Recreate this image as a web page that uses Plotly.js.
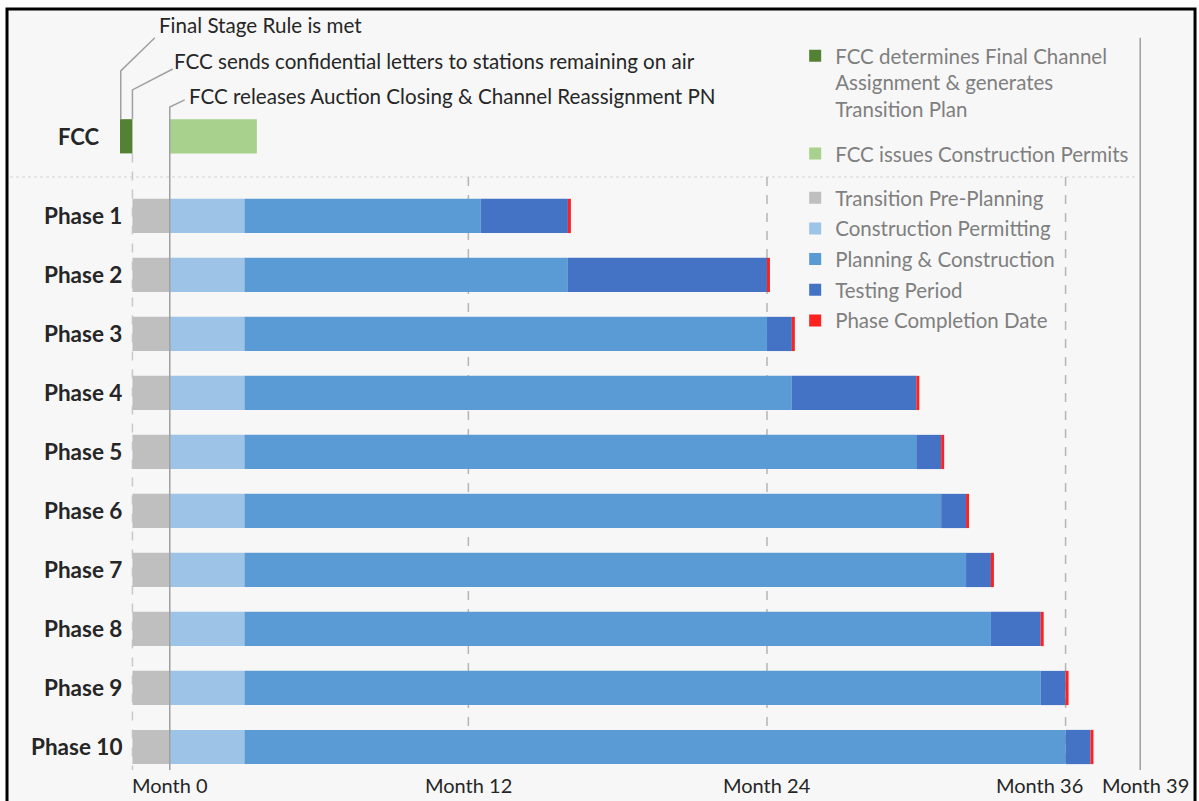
<!DOCTYPE html>
<html><head><meta charset="utf-8">
<script src="https://cdn.plot.ly/plotly-3.0.1.min.js"></script>
<style>html,body{margin:0;padding:0;background:#fff}#chart{width:1199px;height:801px}</style>
</head><body><div id="chart"></div>
<script>
// ---------- DATA ----------
const phases = ['Phase 1','Phase 2','Phase 3','Phase 4','Phase 5','Phase 6','Phase 7','Phase 8','Phase 9','Phase 10'];
const prePlanningStart = [-1.5,-1.5,-1.5,-1.5,-1.5,-1.5,-1.5,-1.5,-1.5,-1.5];
const prePlanningEnd   = [0,0,0,0,0,0,0,0,0,0];
const permittingEnd    = [3,3,3,3,3,3,3,3,3,3];
const planningEnd      = [12.5,16,24,25,30,31,32,33,35,36];
const testingEnd       = [16,24,25,30,31,32,33,35,36,37];

const fccLabel = 'FCC';
const fccAssignment = [-2, -1.5];   // start, end (months)
const fccPermits    = [0, 3.5];     // start, end (months)

const seriesNames = ['Transition Pre-Planning','Construction Permitting','Planning & Construction','Testing Period','Phase Completion Date'];
const fccSeriesNames = ['FCC determines Final Channel<br>Assignment & generates<br>Transition Plan','FCC issues Construction Permits'];

const milestones = ['Final Stage Rule is met','FCC sends confidential letters to stations remaining on air','FCC releases Auction Closing & Channel Reassignment PN'];

const monthTicks  = [0,12,24,36,39];
const monthLabels = ['Month 0','Month 12','Month 24','Month 36','Month 39'];

// ---------- STYLE ----------
const FONT = 'Lato, "Open Sans", sans-serif';
const TXT = '#262626';
const colors = ['#bfbfbf','#9dc3e6','#5b9bd5','#4472c4','#ff2020'];
const fccColors = ['#548235','#a9d18e'];
const BW = 0.58;
const FCC_Y = -0.35;
const MARK = 0.12;
const Y_TOP = -2.49, Y_BOT = 10.39;

const yPos = phases.map((p,i)=>i+1);
const diff = (a,b)=>a.map((v,i)=>v-b[i]);

function hbar(name, base, len, color, legend, group){
  return {type:'bar', orientation:'h', name:name, y:yPos, x:len, base:base, width:BW,
    marker:{color:color, line:{width:0}}, legend:legend, legendgroup:group, hoverinfo:'skip'};
}
const traces = [
  {type:'bar', orientation:'h', name:fccSeriesNames[0], y:[FCC_Y], x:[fccAssignment[1]-fccAssignment[0]], base:[fccAssignment[0]], width:BW,
   marker:{color:fccColors[0]}, legend:'legend', legendgroup:'f1', hoverinfo:'skip'},
  {type:'bar', orientation:'h', name:fccSeriesNames[1], y:[FCC_Y], x:[fccPermits[1]-fccPermits[0]], base:[fccPermits[0]], width:BW,
   marker:{color:fccColors[1]}, legend:'legend', legendgroup:'f2', hoverinfo:'skip'},
  hbar(seriesNames[0], prePlanningStart, diff(prePlanningEnd,prePlanningStart), colors[0], 'legend2','p1'),
  hbar(seriesNames[1], prePlanningEnd, diff(permittingEnd,prePlanningEnd), colors[1], 'legend2','p2'),
  hbar(seriesNames[2], permittingEnd, diff(planningEnd,permittingEnd), colors[2], 'legend2','p3'),
  hbar(seriesNames[3], planningEnd, diff(testingEnd,planningEnd), colors[3], 'legend2','p4'),
  hbar(seriesNames[4], testingEnd, testingEnd.map(()=>MARK), colors[4], 'legend2','p5')
];

const grey = '#a0a0a0';
const shapes = [
  {type:'rect', xref:'paper', yref:'paper', x0:-0.1056, x1:1.0047, y0:-0.06, y1:1.0013, layer:'below',
   fillcolor:'#f7f7f7', line:{color:'#000', width:3}},
  {type:'line', xref:'paper', yref:'paper', x0:-0.1028, x1:0.9505, y0:0.7803, y1:0.7803, layer:'below',
   line:{color:'#d4d4d4', width:1, dash:'dot'}},
];
[12,24,36].forEach(m=>shapes.push({type:'line', x0:m, x1:m, y0:0.339, y1:Y_BOT, layer:'below', line:{color:'#b5b5b5', width:1.5, dash:'dash'}}));
shapes.push({type:'line', x0:39, x1:39, y0:-2.02, y1:Y_BOT, layer:'below', line:{color:grey, width:1.5}});
shapes.push({type:'line', x0:-1.5, x1:-1.5, y0:FCC_Y+BW/2, y1:Y_BOT, layer:'below', line:{color:'#c8c8c8', width:1.5, dash:'dash'}});
const leaders = [
  {x:-1.97, yb:FCC_Y-BW/2, ye:-1.458, dx:-0.6, dy:-2.02},
  {x:-1.5,  yb:FCC_Y-BW/2, ye:-1.136, dx:0.12, dy:-1.49},
  {x:0,     yb:Y_BOT,      ye:-0.847, dx:0.6,  dy:-0.966}
];
leaders.forEach(l=>{
  shapes.push({type:'path', path:`M${l.x},${l.yb} L${l.x},${l.ye} L${l.dx},${l.dy}`, layer:'above', line:{color:grey, width:1.5}});
});
const textPos = [{x:-0.4,y:-2.237},{x:0.2,y:-1.627},{x:0.8,y:-1.034}];

const annotations = [];
milestones.forEach((t,i)=>annotations.push({text:t, x:textPos[i].x, y:textPos[i].y, xref:'x', yref:'y', xanchor:'left', yanchor:'middle', xshift:-3,
  showarrow:false, font:{family:FONT, size:20.6, color:TXT}}));
phases.forEach((p,i)=>annotations.push({text:'<b>'+p+'</b>', x:-2, y:yPos[i], xref:'x', yref:'y', xanchor:'right', yanchor:'middle', xshift:4,
  showarrow:false, font:{family:FONT, size:22.5, color:TXT}}));
annotations.push({text:'<b>'+fccLabel+'</b>', x:-2, y:FCC_Y, xref:'x', yref:'y', xanchor:'right', yanchor:'middle', xshift:-18,
  showarrow:false, font:{family:FONT, size:22, color:TXT}});
const tickShift = [0,0,0,-26,5];
monthTicks.forEach((m,i)=>annotations.push({text:monthLabels[i], x:m, y:0, xref:'x', yref:'paper', xanchor:'center', yanchor:'top', yshift:-1, xshift:tickShift[i],
  showarrow:false, font:{family:FONT, size:20, color:TXT}}));

const layout = {
  width:1199, height:801,
  margin:{l:120, r:9, t:10, b:31},
  paper_bgcolor:'#ffffff', plot_bgcolor:'rgba(0,0,0,0)',
  barmode:'overlay',
  font:{family:FONT, color:TXT},
  xaxis:{range:[-2,41], showgrid:false, zeroline:false, showticklabels:false, showline:false, fixedrange:true},
  yaxis:{range:[Y_BOT, Y_TOP], showgrid:false, zeroline:false, showticklabels:false, showline:false, fixedrange:true},
  showlegend:true,
  legend:{x:0.631, y:0.966, xanchor:'left', yanchor:'top', bgcolor:'rgba(0,0,0,0)', valign:'top', traceorder:'grouped', tracegroupgap:15,
    font:{family:FONT, size:20.5, color:'#7f7f7f'}},
  legend2:{x:0.631, y:0.779, xanchor:'left', yanchor:'top', bgcolor:'rgba(0,0,0,0)', valign:'top', traceorder:'grouped', tracegroupgap:1,
    font:{family:FONT, size:20.5, color:'#7f7f7f'}},
  shapes:shapes, annotations:annotations
};
Plotly.newPlot('chart', traces, layout, {displayModeBar:false, staticPlot:true});
</script></body></html>
